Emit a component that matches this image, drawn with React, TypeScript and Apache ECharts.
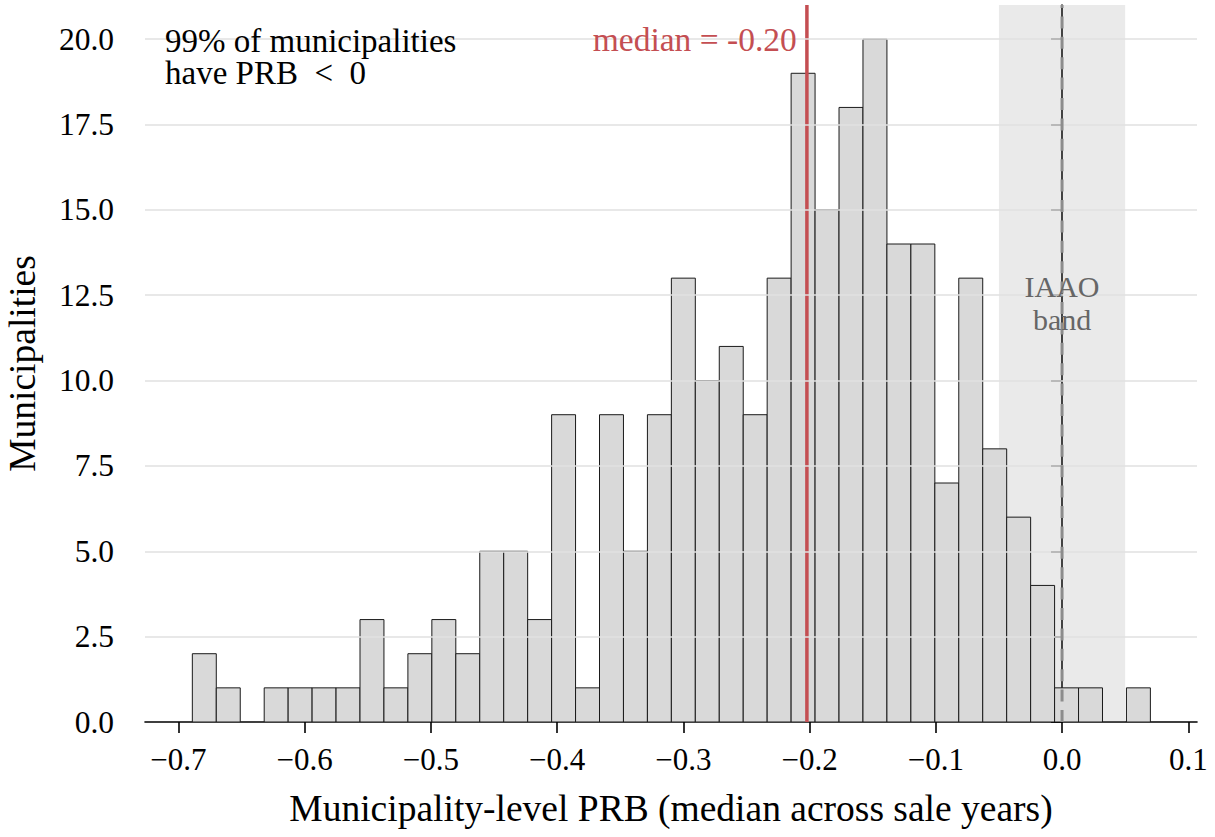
import React, { useEffect, useRef } from 'react';
import * as echarts from 'echarts';

const counts = [2, 1, 0, 1, 1, 1, 1, 3, 1, 2, 3, 2, 5, 5, 3, 9, 1, 9, 5, 9, 13, 10, 11, 9, 13, 19, 15, 18, 20, 14, 14, 7, 13, 8, 6, 4, 1, 1, 0, 1];
const binStart = -0.6889;
const binWidth = 0.018972;
const xTicks = [-0.7, -0.6, -0.5, -0.4, -0.3, -0.2, -0.1, 0.0, 0.1];
const yTicks = [0, 2.5, 5, 7.5, 10, 12.5, 15, 17.5, 20];
const xRange = [-0.7264, 0.1069];
const yRange = [0, 21];
const medianValue = -0.2021;
const zeroValue = 0;
const iaaoBand = [-0.05, 0.05];
const medianLabel = 'median = -0.20';
const shareLabel = '99% of municipalities\nhave PRB  <  0';
const bandLabel = 'IAAO\nband';

const FONT = 'Liberation Serif';

function vline(value: number, z: number, style: any) {
  return {
    type: 'custom',
    z,
    silent: true,
    clip: false,
    encode: { x: 0 },
    data: [[value]],
    renderItem: (params: any, api: any) => {
      const x = api.coord([api.value(0), 0])[0];
      const cs = params.coordSys;
      return {
        type: 'line',
        shape: { x1: x, y1: cs.y + cs.height, x2: x, y2: cs.y },
        style: { fill: null, ...style },
      };
    },
  };
}

export default function App() {
  const ref = useRef<HTMLDivElement>(null);
  useEffect(() => {
    if (!ref.current) return;
    const chart = echarts.init(ref.current, undefined, { renderer: 'svg' });
    const bins = counts
      .map((c, i) => [binStart + i * binWidth, binStart + (i + 1) * binWidth, c])
      .filter((d) => d[2] > 0);
    const grid = { left: 145, right: 18, top: 5, bottom: 115, containLabel: false, outerBoundsMode: 'none' };
    const option: any = {
      animation: false,
      backgroundColor: '#ffffff',
      textStyle: { fontFamily: FONT },
      grid,
      xAxis: {
        type: 'value',
        min: xRange[0],
        max: xRange[1],
        name: 'Municipality-level PRB (median across sale years)',
        nameLocation: 'middle',
        nameGap: 86,
        nameTextStyle: { fontFamily: FONT, fontSize: 37.5, color: '#000', verticalAlign: 'middle', lineHeight: 40 },
        axisLine: { show: true, lineStyle: { color: '#000', width: 1.6 } },
        axisTick: { show: true, customValues: xTicks, length: 11, inside: false, lineStyle: { color: '#000', width: 1.6 } },
        axisLabel: {
          customValues: xTicks,
          fontFamily: FONT,
          fontSize: 31,
          color: '#000',
          margin: 22,
          formatter: (v: number) => (v < -1e-9 ? '\u2212' + Math.abs(v).toFixed(1) : Math.abs(v).toFixed(1)),
        },
        splitLine: { show: false },
      },
      yAxis: {
        type: 'value',
        min: yRange[0],
        max: yRange[1],
        name: 'Municipalities',
        nameLocation: 'middle',
        nameGap: 123,
        nameRotate: 90,
        nameTextStyle: { fontFamily: FONT, fontSize: 37.5, color: '#000', verticalAlign: 'middle', lineHeight: 40 },
        axisLine: { show: true, lineStyle: { color: '#000', width: 1.6 } },
        axisTick: { show: true, customValues: yTicks, length: 11, inside: false, lineStyle: { color: '#000', width: 1.6 } },
        axisLabel: {
          customValues: yTicks,
          fontFamily: FONT,
          fontSize: 31.5,
          color: '#000',
          margin: 31,
          formatter: (v: number) => v.toFixed(1),
        },
        splitLine: { show: false },
      },
      series: [
        {
          type: 'line',
          data: [],
          z: 1,
          silent: true,
          markLine: {
            silent: true,
            symbol: ['none', 'none'],
            label: { show: false },
            lineStyle: { color: '#e0e0e0', width: 1.5, type: 'solid' },
            data: yTicks.filter((v) => v > 0).map((v) => ({ yAxis: v })),
          },
        },
        {
          type: 'line',
          data: [],
          z: 2,
          silent: true,
          markArea: {
            silent: true,
            itemStyle: { color: 'rgba(140,140,140,0.18)' },
            label: { show: false },
            data: [[{ xAxis: iaaoBand[0] }, { xAxis: iaaoBand[1] }]],
          },
        },
        {
          type: 'custom',
          z: 3,
          clip: true,
          silent: true,
          encode: { x: [0, 1], y: 2 },
          data: bins,
          renderItem: (params: any, api: any) => {
            const p0 = api.coord([api.value(0), api.value(2)]);
            const p1 = api.coord([api.value(1), 0]);
            return {
              type: 'rect',
              shape: { x: p0[0], y: p0[1], width: p1[0] - p0[0], height: p1[1] - p0[1] },
              style: { fill: '#d9d9d9', stroke: '#1a1a1a', lineWidth: 1 },
            };
          },
        },
        vline(medianValue, 4, { stroke: '#c44e52', lineWidth: 3.5 }),
        vline(zeroValue, 5, { stroke: '#8c8c8c', lineWidth: 3, lineDash: [12, 8.4] }),
      ],
    };
    chart.setOption(option);
    const mp = chart.convertToPixel({ gridIndex: 0 }, [medianValue - 0.008, 20]) as number[];
    const bp = chart.convertToPixel({ gridIndex: 0 }, [zeroValue, 12.27]) as number[];
    const w = 1215 - grid.left - grid.right;
    chart.setOption({
      graphic: [
        {
          type: 'text',
          z: 10,
          x: grid.left + 0.019 * w,
          y: 25,
          style: { text: shareLabel, fontFamily: FONT, fontSize: 33, lineHeight: 32, fill: '#000', align: 'left', verticalAlign: 'top' },
        },
        {
          type: 'text',
          z: 10,
          x: mp[0],
          y: mp[1],
          style: { text: medianLabel, fontFamily: FONT, fontSize: 33.5, fill: '#c44e52', align: 'right', verticalAlign: 'middle' },
        },
        {
          type: 'text',
          z: 10,
          x: bp[0],
          y: bp[1],
          style: { text: bandLabel, fontFamily: FONT, fontSize: 30, lineHeight: 33, fill: '#666666', align: 'center', verticalAlign: 'middle' },
        },
      ],
    });
    return () => chart.dispose();
  }, []);
  return <div ref={ref} style={{ position: 'fixed', left: 0, top: 0, width: 1215, height: 837 }} />;
}
